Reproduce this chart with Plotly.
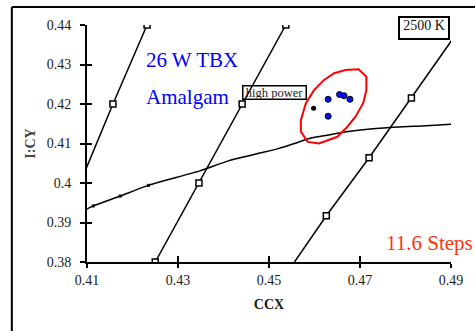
import plotly.graph_objects as go

# ---- data -------------------------------------------------------------
# isotemperature lines (CCX, I:CY)
iso1_x = [0.4085, 0.4157, 0.4232]
iso1_y = [0.400, 0.420, 0.440]
iso2_x = [0.4250, 0.4346, 0.4441, 0.4537]
iso2_y = [0.380, 0.400, 0.420, 0.440]
iso3_x = [0.4556, 0.4626, 0.4720, 0.4813, 0.4907]
iso3_y = [0.3800, 0.3917, 0.4064, 0.4215, 0.4370]
iso3_marked = [False, True, True, True, False]

# blackbody locus
locus_x = [0.4091, 0.4114, 0.4173, 0.4235, 0.4346, 0.4411, 0.4520, 0.4556,
           0.4592, 0.4628, 0.4650, 0.4701, 0.4759, 0.4846, 0.4907]
locus_y = [0.3929, 0.3942, 0.3967, 0.3994, 0.4030, 0.4056, 0.4087, 0.4100,
           0.4114, 0.4121, 0.4126, 0.4134, 0.4140, 0.4145, 0.4149]
locus_marked = [False, True, True, True] + [False] * 11

# measured lamps
lamp_x = [0.4630, 0.4655, 0.4665, 0.4678, 0.4630]
lamp_y = [0.4212, 0.4224, 0.4221, 0.4212, 0.4169]
outlier_x = [0.4598]
outlier_y = [0.4189]

# tolerance ellipse outline
ring_x = [0.4668, 0.4697, 0.4714, 0.4714, 0.4707, 0.4690, 0.4672, 0.4650,
          0.4610, 0.4585, 0.4570, 0.4570, 0.4581, 0.4599, 0.4621, 0.4643, 0.4668]
ring_y = [0.4286, 0.4288, 0.4269, 0.4235, 0.4202, 0.4168, 0.4142, 0.4117,
          0.4100, 0.4104, 0.4130, 0.4159, 0.4202, 0.4235, 0.4261, 0.4278, 0.4286]

x_ticks = [0.41, 0.43, 0.45, 0.47, 0.49]
x_tick_labels = ["0.41", "0.43", "0.45", "0.47", "0.49"]
y_ticks = [0.38, 0.39, 0.40, 0.41, 0.42, 0.43, 0.44]
y_tick_labels = ["0.38", "0.39", "0.4", "0.41", "0.42", "0.43", "0.44"]

# ---- figure -----------------------------------------------------------
SERIF = "Liberation Serif, Times New Roman, serif"
fig = go.Figure()

square = dict(symbol="square", size=6, color="white",
              line=dict(color="black", width=1.5))

fig.add_trace(go.Scatter(x=iso1_x, y=iso1_y, mode="lines+markers",
                         line=dict(color="black", width=1.5), marker=square))
fig.add_trace(go.Scatter(x=iso2_x, y=iso2_y, mode="lines+markers",
                         line=dict(color="black", width=1.5), marker=square))
fig.add_trace(go.Scatter(x=iso3_x, y=iso3_y, mode="lines+markers",
                         line=dict(color="black", width=1.5),
                         marker=dict(square, opacity=[1 if m else 0 for m in iso3_marked])))
fig.add_trace(go.Scatter(x=locus_x, y=locus_y, mode="lines+markers",
                         line=dict(color="black", width=1.5, shape="spline", smoothing=0.6),
                         marker=dict(symbol="square", size=3, color="black",
                                     opacity=[1 if m else 0 for m in locus_marked])))
fig.add_trace(go.Scatter(x=ring_x, y=ring_y, mode="lines",
                         line=dict(color="#ff0000", width=2)))
fig.add_trace(go.Scatter(x=lamp_x, y=lamp_y, mode="markers",
                         marker=dict(symbol="circle", size=6, color="#0010ff",
                                     line=dict(color="black", width=1))))
fig.add_trace(go.Scatter(x=outlier_x, y=outlier_y, mode="markers",
                         marker=dict(symbol="circle", size=5, color="black")))
# carrier trace for the overlay axes that draw the inner tick halves
fig.add_trace(go.Scatter(x=[x_ticks[0]], y=[y_ticks[0]], xaxis="x2", yaxis="y2",
                         mode="markers", marker=dict(opacity=0), hoverinfo="skip"))

tick_font = dict(family=SERIF, size=14, color="#1a1a1a")
x_range = [x_ticks[0], x_ticks[-1]]
y_range = [y_ticks[0], y_ticks[-1]]

fig.update_layout(
    width=475, height=331,
    margin=dict(l=87, r=20, t=25, b=69),
    paper_bgcolor="white", plot_bgcolor="white",
    showlegend=False,
    xaxis=dict(range=x_range, tickvals=x_ticks, ticktext=x_tick_labels,
               showgrid=False, zeroline=False, showline=True,
               linecolor="black", linewidth=2,
               ticks="outside", ticklen=4, tickwidth=2, tickcolor="black",
               tickfont=tick_font, ticklabelstandoff=0,
               title=dict(text="<b>CCX</b>", standoff=12,
                          font=dict(family=SERIF, size=14, color="#1a1a1a"))),
    yaxis=dict(range=y_range, tickvals=y_ticks, ticktext=y_tick_labels,
               showgrid=False, zeroline=False, showline=True,
               linecolor="black", linewidth=2,
               ticks="outside", ticklen=5, tickwidth=2, tickcolor="black",
               tickfont=tick_font, ticklabelstandoff=6,
               title=dict(text="<b>I:CY</b>", standoff=8,
                          font=dict(family=SERIF, size=14, color="#444444"))),
    xaxis2=dict(range=x_range, tickvals=x_ticks, overlaying="x", anchor="y2",
                side="bottom", showgrid=False, zeroline=False, showline=False,
                showticklabels=False, ticks="inside", ticklen=6, tickwidth=2,
                tickcolor="black"),
    yaxis2=dict(range=y_range, tickvals=y_ticks, overlaying="y", anchor="x2",
                side="left", showgrid=False, zeroline=False, showline=False,
                showticklabels=False, ticks="inside", ticklen=5, tickwidth=2,
                tickcolor="black"),
)

# outer frame (extends past the right and bottom edges of the page)
fx0, fy1 = -0.2065, 1.0759
fig.add_shape(type="line", xref="paper", yref="paper", x0=fx0, x1=1.3, y0=fy1, y1=fy1,
              line=dict(color="black", width=2))
fig.add_shape(type="line", xref="paper", yref="paper", x0=fx0, x1=fx0, y0=-0.5, y1=fy1,
              line=dict(color="black", width=2))

fig.add_annotation(x=0.4226, y=0.4311, xref="x", yref="y", text="26 W TBX",
                   showarrow=False, xanchor="left", yanchor="middle",
                   font=dict(family=SERIF, size=21, color="#0000ff"))
fig.add_annotation(x=0.4226, y=0.4217, xref="x", yref="y", text="Amalgam",
                   showarrow=False, xanchor="left", yanchor="middle",
                   font=dict(family=SERIF, size=21, color="#0000ff"))
fig.add_annotation(x=0.4752, y=0.3847, xref="x", yref="y", text="11.6 Steps",
                   showarrow=False, xanchor="left", yanchor="middle",
                   font=dict(family=SERIF, size=21, color="#ff3311"))
fig.add_annotation(x=0.4511, y=0.4228, xref="x", yref="y", text="high power",
                   showarrow=False, xanchor="center", yanchor="middle",
                   width=62, height=12, borderpad=0, borderwidth=1.5,
                   bordercolor="black",
                   font=dict(family=SERIF, size=12.5, color="#222222"))
fig.add_annotation(x=0.4840, y=0.4392, xref="x", yref="y", text="2500 K",
                   showarrow=False, xanchor="center", yanchor="middle",
                   width=48, height=20, borderpad=0, borderwidth=2,
                   bordercolor="black", bgcolor="white", valign="top",
                   font=dict(family=SERIF, size=14, color="#111111"))

fig.write_html("out.html")
